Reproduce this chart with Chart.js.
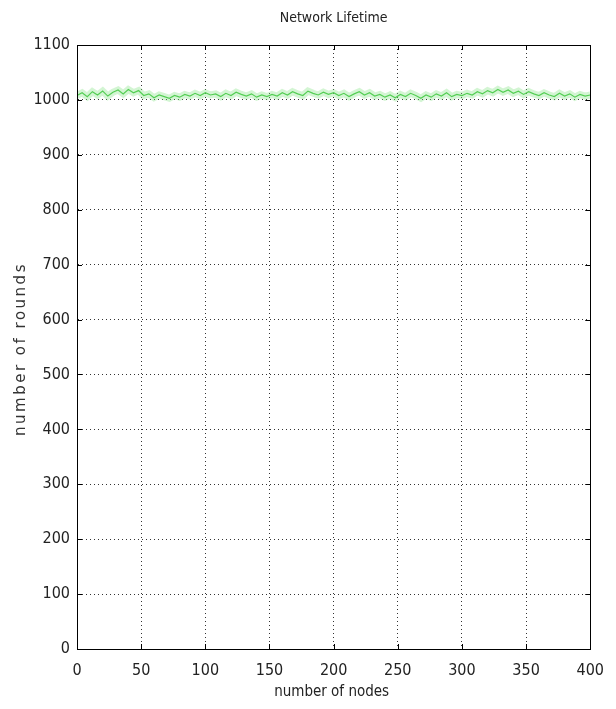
<!DOCTYPE html>
<html>
<head>
<meta charset="utf-8">
<script src="https://cdn.jsdelivr.net/npm/chart.js@4/dist/chart.umd.min.js"></script>
<style>
  html, body { margin: 0; padding: 0; background: #ffffff; }
  #wrap { width: 616px; height: 709px; }
</style>
</head>
<body>
<div id="wrap"><canvas id="c" width="616" height="709"></canvas></div>
<script>
// ---- data ----
const chartTitle = "Network Lifetime";
const xTitle = "number of nodes";
const yTitle = "number of rounds";
const xTicks = [0, 50, 100, 150, 200, 250, 300, 350, 400];
const yTicks = [0, 100, 200, 300, 400, 500, 600, 700, 800, 900, 1000, 1100];
// number of nodes sampled every 4 nodes
const nodes = Array.from({length: 101}, (_, i) => i * 4);
// number of rounds
const rounds = [
  1008, 1013, 1006, 1015, 1009, 1016, 1007, 1014, 1018, 1011, 1019, 1013, 1017,
  1008, 1011, 1004, 1009, 1006, 1003, 1008, 1005, 1010, 1007, 1012, 1008,
  1013, 1009, 1011, 1006, 1012, 1008, 1014, 1010, 1007, 1011, 1005, 1009, 1006,
  1010, 1007, 1013, 1009, 1015, 1011, 1008, 1016, 1012, 1009, 1014, 1010, 1013,
  1008, 1012, 1006, 1011, 1015, 1009, 1013, 1007, 1010, 1005, 1009, 1004,
  1010, 1006, 1012, 1008, 1003, 1009, 1005, 1011, 1007, 1013, 1006, 1010, 1008,
  1012, 1009, 1015, 1011, 1017, 1013, 1019, 1014, 1018, 1012, 1016, 1010,
  1015, 1011, 1008, 1013, 1009, 1006, 1012, 1007, 1011, 1005, 1010, 1007, 1009
];

const points = nodes.map((n, i) => ({x: n, y: rounds[i]}));
const NARROW = "'DejaVu Sans Condensed', 'Liberation Sans Narrow', sans-serif";

const decor = {
  id: 'decor',
  afterDraw(chart) {
    const {ctx, chartArea: a, scales} = chart;
    ctx.save();
    // box
    ctx.strokeStyle = '#000';
    ctx.lineWidth = 1;
    ctx.strokeRect(Math.round(a.left) + 0.5, Math.round(a.top) + 0.5,
                   Math.round(a.right - a.left), Math.round(a.bottom - a.top));
    // inward tick marks
    const tl = 5;
    ctx.beginPath();
    xTicks.forEach(v => {
      const px = Math.round(scales.x.getPixelForValue(v)) + 0.5;
      ctx.moveTo(px, a.bottom); ctx.lineTo(px, a.bottom - tl);
      ctx.moveTo(px, a.top); ctx.lineTo(px, a.top + tl);
    });
    yTicks.forEach(v => {
      const py = Math.round(scales.y.getPixelForValue(v)) + 0.5;
      ctx.moveTo(a.left, py); ctx.lineTo(a.left + tl, py);
      ctx.moveTo(a.right, py); ctx.lineTo(a.right - tl, py);
    });
    ctx.stroke();
    // titles
    const cx = (a.left + a.right) / 2;
    ctx.fillStyle = '#222';
    ctx.textAlign = 'center';
    ctx.textBaseline = 'middle';
    ctx.font = '14px ' + NARROW;
    ctx.fillText(chartTitle, cx, 18);
    ctx.font = '15px ' + NARROW;
    ctx.fillText(xTitle, cx - 2, 692);
    ctx.translate(21, (a.top + a.bottom) / 2 + 2);
    ctx.rotate(-Math.PI / 2);
    ctx.fillStyle = '#333';
    ctx.font = '15px "DejaVu Sans", sans-serif';
    try { ctx.letterSpacing = '2.5px'; } catch (e) {}
    ctx.fillText(yTitle, 0, 0);
    ctx.restore();
  }
};

new Chart(document.getElementById('c'), {
  type: 'line',
  data: {
    datasets: [
      {
        data: points,
        borderColor: 'rgba(130, 225, 130, 0.35)',
        borderWidth: 7,
        pointRadius: 0,
        tension: 0,
        fill: false
      },
      {
        data: points,
        borderColor: '#3cc43c',
        borderWidth: 1.2,
        pointRadius: 0,
        tension: 0,
        fill: false
      }
    ]
  },
  options: {
    responsive: false,
    animation: false,
    events: [],
    layout: { padding: { top: 45, right: 13, left: 0, bottom: 0 } },
    plugins: { legend: { display: false }, title: { display: false }, tooltip: { enabled: false } },
    scales: {
      x: {
        type: 'linear',
        min: 0, max: 400,
        afterFit(s) { s.height = 60; },
        afterBuildTicks(s) { s.ticks = xTicks.map(v => ({value: v})); },
        grid: { color: '#333', lineWidth: 1, drawTicks: false },
        border: { display: true, color: '#000', dash: [1, 3] },
        ticks: { color: '#222', padding: 12, font: { family: NARROW, size: 16 }, maxRotation: 0,
                 callback: v => String(v) }
      },
      y: {
        min: 0, max: 1100,
        afterFit(s) { s.width = 77; },
        afterBuildTicks(s) { s.ticks = yTicks.map(v => ({value: v})); },
        grid: { color: '#333', lineWidth: 1, drawTicks: false },
        border: { display: true, color: '#000', dash: [1, 3] },
        ticks: { color: '#222', padding: 7, font: { family: NARROW, size: 16 },
                 callback: v => String(v) }
      }
    }
  },
  plugins: [decor]
});
</script>
</body>
</html>
